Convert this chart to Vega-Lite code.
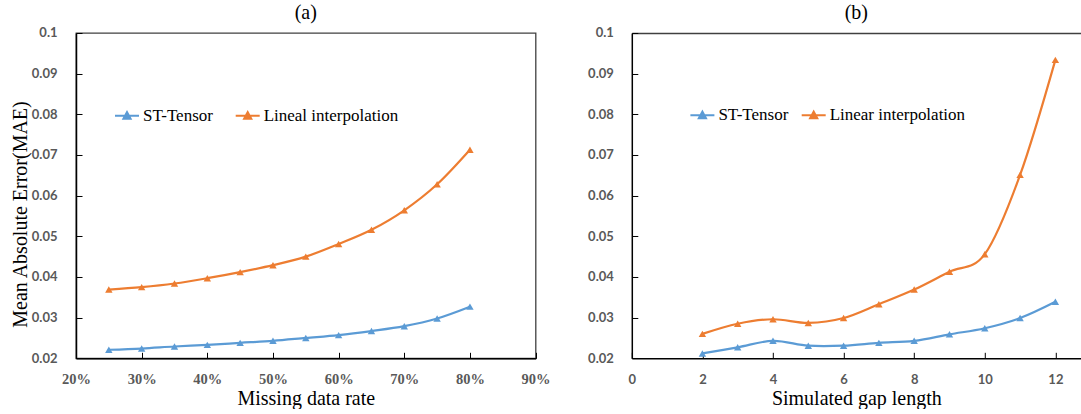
{
  "$schema": "https://vega.github.io/schema/vega-lite/v6.json",
  "background": "white",
  "padding": {"left": 9, "top": 2, "right": 0, "bottom": 0},
  "bounds": "flush",
  "spacing": 95.8,
  "datasets": {
    "a": [
      {"x": 25, "mae": 0.0221, "method": "ST-Tensor"},
      {"x": 30, "mae": 0.0224, "method": "ST-Tensor"},
      {"x": 35, "mae": 0.0229, "method": "ST-Tensor"},
      {"x": 40, "mae": 0.0233, "method": "ST-Tensor"},
      {"x": 45, "mae": 0.0238, "method": "ST-Tensor"},
      {"x": 50, "mae": 0.0243, "method": "ST-Tensor"},
      {"x": 55, "mae": 0.0250, "method": "ST-Tensor"},
      {"x": 60, "mae": 0.0257, "method": "ST-Tensor"},
      {"x": 65, "mae": 0.0267, "method": "ST-Tensor"},
      {"x": 70, "mae": 0.0279, "method": "ST-Tensor"},
      {"x": 75, "mae": 0.0298, "method": "ST-Tensor"},
      {"x": 80, "mae": 0.0327, "method": "ST-Tensor"},
      {"x": 25, "mae": 0.0369, "method": "Lineal interpolation"},
      {"x": 30, "mae": 0.0375, "method": "Lineal interpolation"},
      {"x": 35, "mae": 0.0384, "method": "Lineal interpolation"},
      {"x": 40, "mae": 0.0397, "method": "Lineal interpolation"},
      {"x": 45, "mae": 0.0412, "method": "Lineal interpolation"},
      {"x": 50, "mae": 0.0429, "method": "Lineal interpolation"},
      {"x": 55, "mae": 0.0450, "method": "Lineal interpolation"},
      {"x": 60, "mae": 0.0481, "method": "Lineal interpolation"},
      {"x": 65, "mae": 0.0516, "method": "Lineal interpolation"},
      {"x": 70, "mae": 0.0564, "method": "Lineal interpolation"},
      {"x": 75, "mae": 0.0628, "method": "Lineal interpolation"},
      {"x": 80, "mae": 0.0713, "method": "Lineal interpolation"}
    ],
    "b": [
      {"x": 2, "mae": 0.0212, "method": "ST-Tensor"},
      {"x": 3, "mae": 0.0227, "method": "ST-Tensor"},
      {"x": 4, "mae": 0.0243, "method": "ST-Tensor"},
      {"x": 5, "mae": 0.0231, "method": "ST-Tensor"},
      {"x": 6, "mae": 0.0231, "method": "ST-Tensor"},
      {"x": 7, "mae": 0.0238, "method": "ST-Tensor"},
      {"x": 8, "mae": 0.0243, "method": "ST-Tensor"},
      {"x": 9, "mae": 0.0259, "method": "ST-Tensor"},
      {"x": 10, "mae": 0.0274, "method": "ST-Tensor"},
      {"x": 11, "mae": 0.0299, "method": "ST-Tensor"},
      {"x": 12, "mae": 0.0339, "method": "ST-Tensor"},
      {"x": 2, "mae": 0.0260, "method": "Linear interpolation"},
      {"x": 3, "mae": 0.0285, "method": "Linear interpolation"},
      {"x": 4, "mae": 0.0296, "method": "Linear interpolation"},
      {"x": 5, "mae": 0.0287, "method": "Linear interpolation"},
      {"x": 6, "mae": 0.0299, "method": "Linear interpolation"},
      {"x": 7, "mae": 0.0333, "method": "Linear interpolation"},
      {"x": 8, "mae": 0.0369, "method": "Linear interpolation"},
      {"x": 9, "mae": 0.0413, "method": "Linear interpolation"},
      {"x": 10, "mae": 0.0456, "method": "Linear interpolation"},
      {"x": 11, "mae": 0.0651, "method": "Linear interpolation"},
      {"x": 12, "mae": 0.0934, "method": "Linear interpolation"}
    ]
  },
  "config": {
    "view": {"stroke": "#404040", "strokeWidth": 1.3},
    "axis": {
      "grid": false,
      "domainColor": "#000000",
      "domainWidth": 1.5,
      "tickColor": "#000000",
      "tickWidth": 1,
      "tickSize": -6,
      "labelColor": "#595959",
      "labelFlush": false,
      "labelOverlap": false,
      "labelBound": false,
      "titleColor": "#000000",
      "titleFont": "Liberation Serif",
      "titleFontSize": 20,
      "titleFontWeight": "normal"
    },
    "title": {
      "font": "Liberation Serif",
      "fontSize": 20,
      "fontWeight": "normal",
      "color": "#000000",
      "baseline": "alphabetic",
      "offset": 3.6
    }
  },
  "resolve": {"scale": {"color": "independent"}, "legend": {"color": "independent"}},
  "hconcat": [
    {
      "title": "(a)",
      "width": 459.6,
      "height": 325.3,
      "data": {"name": "a"},
      "encoding": {
        "x": {
          "field": "x", "type": "quantitative",
          "scale": {"domain": [20, 90], "nice": false, "zero": false},
          "axis": {
            "title": "Missing data rate",
            "values": [20, 30, 40, 50, 60, 70, 80, 90],
            "labelExpr": "datum.value + '%'",
            "labelFont": "Liberation Serif",
            "labelFontWeight": "bold",
            "labelFontSize": 14.5,
            "labelPadding": 20,
            "titleBaseline": "alphabetic",
            "titleY": 46.2
          }
        },
        "y": {
          "field": "mae", "type": "quantitative",
          "scale": {"domain": [0.02, 0.1], "nice": false, "zero": false},
          "axis": {
            "title": "Mean Absolute Error(MAE)",
            "values": [0.02, 0.03, 0.04, 0.05, 0.06, 0.07, 0.08, 0.09, 0.1],
            "format": ".2~f",
            "labelFont": "Lato",
            "labelFontWeight": "bold",
            "labelFontSize": 13,
            "labelPadding": 25,
            "titleX": -46,
            "titleY": 181
          }
        },
        "color": {
          "field": "method", "type": "nominal",
          "scale": {"domain": ["ST-Tensor", "Lineal interpolation"], "range": ["#5B9BD5", "#ED7D31"]},
          "legend": {
            "title": null,
            "orient": "none",
            "legendX": 38,
            "legendY": 69.7,
            "direction": "horizontal",
            "symbolType": "M-1,0H1M-0.3,0.26L0,-0.3L0.3,0.26ZM-0.15,0.13L0,-0.14L0.15,0.13Z",
            "symbolSize": 576,
            "symbolStrokeWidth": 2,
            "labelFont": "Liberation Serif",
            "labelFontSize": 17,
            "labelColor": "#000000",
            "labelOffset": 3,
            "columnPadding": 18.7,
            "padding": 0
          }
        }
      },
      "layer": [
        {"mark": {"type": "line", "interpolate": "cardinal", "strokeWidth": 2.2}},
        {"mark": {"type": "point", "shape": "triangle-up", "filled": true, "size": 55, "opacity": 1}}
      ]
    },
    {
      "title": "(b)",
      "width": 449,
      "height": 325.3,
      "view": {"stroke": null},
      "data": {"name": "b"},
      "encoding": {
        "y": {
          "field": "mae", "type": "quantitative",
          "scale": {"domain": [0.02, 0.1], "nice": false, "zero": false},
          "axis": {
            "title": null,
            "values": [0.02, 0.03, 0.04, 0.05, 0.06, 0.07, 0.08, 0.09, 0.1],
            "format": ".2~f",
            "labelFont": "Lato",
            "labelFontWeight": "bold",
            "labelFontSize": 13,
            "labelPadding": 24.5
          }
        },
        "color": {
          "field": "method", "type": "nominal",
          "scale": {"domain": ["ST-Tensor", "Linear interpolation"], "range": ["#5B9BD5", "#ED7D31"]},
          "legend": {
            "title": null,
            "orient": "none",
            "legendX": 57.6,
            "legendY": 69.2,
            "direction": "horizontal",
            "symbolType": "M-1,0H1M-0.3,0.26L0,-0.3L0.3,0.26ZM-0.15,0.13L0,-0.14L0.15,0.13Z",
            "symbolSize": 576,
            "symbolStrokeWidth": 2,
            "labelFont": "Liberation Serif",
            "labelFontSize": 17,
            "labelColor": "#000000",
            "labelOffset": 3,
            "columnPadding": 9.3,
            "padding": 0
          }
        }
      },
      "layer": [
        {
          "mark": {"type": "line", "interpolate": "cardinal", "strokeWidth": 2.2},
          "encoding": {
            "x": {
              "field": "x", "type": "quantitative",
              "scale": {"domain": [0, 12.72], "nice": false, "zero": false},
              "axis": {
                "title": "Simulated gap length",
                "values": [0, 2, 4, 6, 8, 10, 12],
                "labelFont": "Lato",
                "labelFontWeight": "bold",
                "labelFontSize": 13,
                "labelPadding": 21.3,
                "titleBaseline": "alphabetic",
                "titleY": 46.2
              }
            }
          }
        },
        {
          "mark": {"type": "point", "shape": "triangle-up", "filled": true, "size": 55, "opacity": 1},
          "encoding": {
            "x": {
              "field": "x", "type": "quantitative",
              "scale": {"domain": [0, 12.72], "nice": false, "zero": false},
              "axis": {
                "orient": "top",
                "title": null,
                "labels": false,
                "ticks": false,
                "domainColor": "#404040",
                "domainWidth": 1.3
              }
            }
          }
        }
      ],
      "resolve": {"axis": {"x": "independent"}}
    }
  ]
}
